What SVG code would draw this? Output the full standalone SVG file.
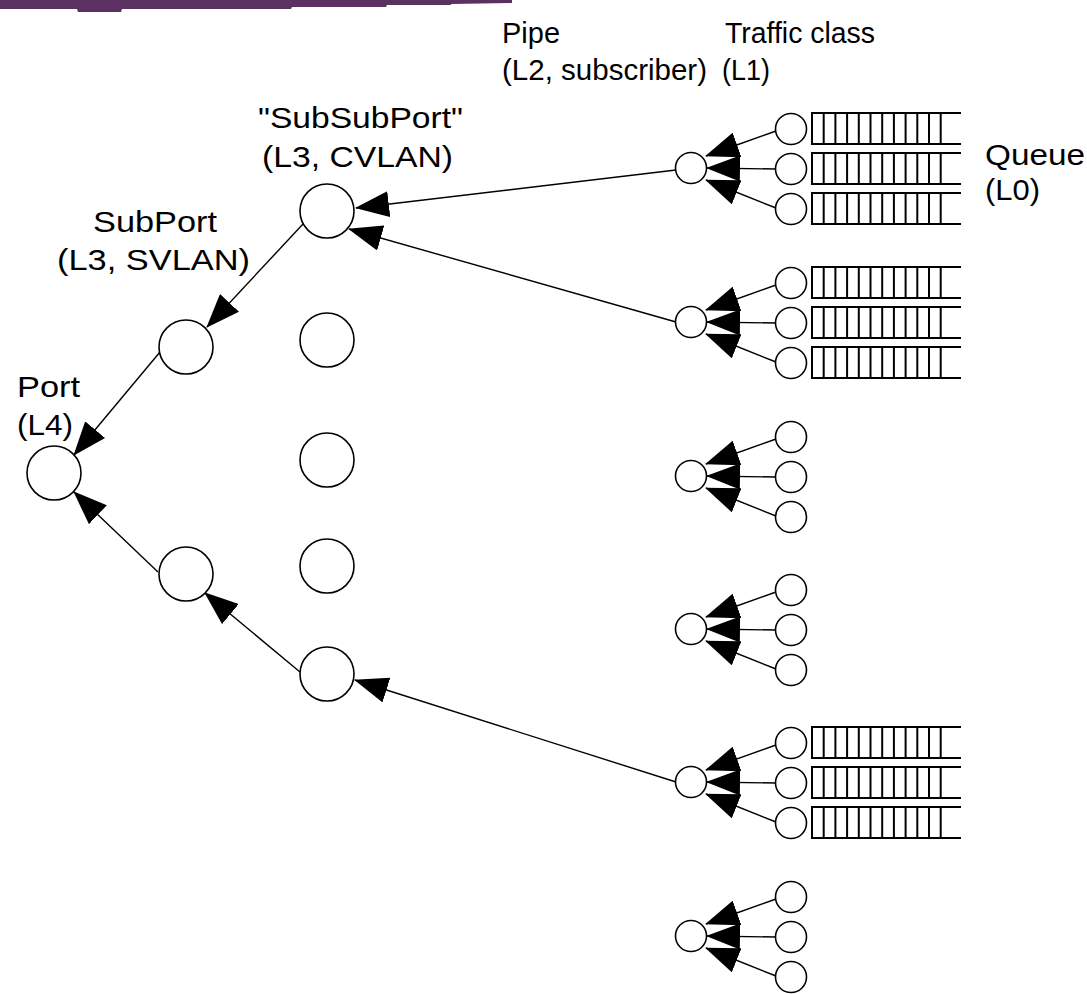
<svg xmlns="http://www.w3.org/2000/svg" xmlns:xlink="http://www.w3.org/1999/xlink" width="1087" height="994" viewBox="0 0 1087 994">
  <style>
    .n { fill: #fff; stroke: #000; stroke-width: 1.6; }
    .e { fill: none; stroke: #000; stroke-width: 1.4; marker-end: url(#ah); }
    .q { fill: none; stroke: #000; stroke-width: 2; }
    .t { font-family: "Liberation Sans", Arial, sans-serif; font-size: 30px; fill: #000; }
  </style>
  <defs>
    <marker id="ah" markerUnits="userSpaceOnUse" markerWidth="34" markerHeight="26" viewBox="0 0 34 26" refX="33" refY="13" orient="auto">
      <path d="M0,0 L34,13 L0,26 Z" fill="#000"/>
    </marker>
    <!-- one queue: open-ended ladder of 12 slots -->
    <g id="queue">
      <path class="q" d="M0,0 H150 M0,31 H150 M1,0 V31 M12.7,0 V31 M24.4,0 V31 M36.1,0 V31 M47.8,0 V31 M59.5,0 V31 M71.2,0 V31 M82.9,0 V31 M94.6,0 V31 M106.3,0 V31 M118,0 V31 M129.7,0 V31"/>
    </g>
    <!-- pipe with its three traffic classes and their arrows -->
    <g id="pipe">
      <path class="e" d="M776,-37 L706,-12"/>
      <path class="e" d="M776,1 L707,0"/>
      <path class="e" d="M776,40 L706,12"/>
      <circle class="n" cx="691" cy="0" r="15.5"/>
      <circle class="n" cx="791" cy="-39" r="15.5"/>
      <circle class="n" cx="791" cy="1" r="15.5"/>
      <circle class="n" cx="791" cy="41" r="15.5"/>
    </g>
    <g id="queues">
      <use xlink:href="#queue" x="811" y="-55"/>
      <use xlink:href="#queue" x="811" y="-15"/>
      <use xlink:href="#queue" x="811" y="25"/>
    </g>
  </defs>

  <!-- header band -->
  <path d="M0,0 H512 V3 L452,4 L450,5 L387,5 L386,7 L292,7 L291,9 L122,9 L121,12 L78,12 L77,9 L0,9 Z" fill="#5b3162"/>

  <!-- connectors -->
  <g id="connectors">
    <path class="e" d="M676,170 L356,208"/>
    <path class="e" d="M676,322 L349,229"/>
    <path class="e" d="M676,782 L355,680"/>
    <path class="e" d="M303,224 L207,327"/>
    <path class="e" d="M300,672 L205,593"/>
    <path class="e" d="M160,352 L74,455"/>
    <path class="e" d="M158,572 L74,492"/>
  </g>

  <!-- port level -->
  <g id="port">
    <circle class="n" cx="54" cy="473" r="27"/>
  </g>

  <!-- subports -->
  <g id="subport-1"><circle class="n" cx="186" cy="347" r="27"/></g>
  <g id="subport-2"><circle class="n" cx="186" cy="574" r="27"/></g>

  <!-- subsubports -->
  <g id="subsubport-1"><circle class="n" cx="327" cy="211" r="27"/></g>
  <g id="subsubport-2"><circle class="n" cx="327" cy="340" r="27"/></g>
  <g id="subsubport-3"><circle class="n" cx="327" cy="460" r="27"/></g>
  <g id="subsubport-4"><circle class="n" cx="327" cy="566" r="27"/></g>
  <g id="subsubport-5"><circle class="n" cx="327" cy="674" r="27"/></g>

  <!-- pipes -->
  <g id="pipe-1" transform="translate(0,168)"><use xlink:href="#pipe"/><use xlink:href="#queues"/></g>
  <g id="pipe-2" transform="translate(0,322)"><use xlink:href="#pipe"/><use xlink:href="#queues"/></g>
  <g id="pipe-3" transform="translate(0,476)"><use xlink:href="#pipe"/></g>
  <g id="pipe-4" transform="translate(0,629)"><use xlink:href="#pipe"/></g>
  <g id="pipe-5" transform="translate(0,782)"><use xlink:href="#pipe"/><use xlink:href="#queues"/></g>
  <g id="pipe-6" transform="translate(0,936)"><use xlink:href="#pipe"/></g>

  <!-- level labels -->
  <g id="labels">
    <text class="t" x="502" y="43" textLength="58" lengthAdjust="spacingAndGlyphs">Pipe</text>
    <text class="t" x="502" y="80" textLength="205" lengthAdjust="spacingAndGlyphs">(L2, subscriber)</text>
    <text class="t" x="725" y="43" textLength="150" lengthAdjust="spacingAndGlyphs">Traffic class</text>
    <text class="t" x="722" y="80" textLength="48" lengthAdjust="spacingAndGlyphs">(L1)</text>
    <text class="t" x="258" y="128" textLength="205" lengthAdjust="spacingAndGlyphs">"SubSubPort"</text>
    <text class="t" x="262" y="167" textLength="191" lengthAdjust="spacingAndGlyphs">(L3, CVLAN)</text>
    <text class="t" x="93" y="232" textLength="124" lengthAdjust="spacingAndGlyphs">SubPort</text>
    <text class="t" x="57" y="270" textLength="193" lengthAdjust="spacingAndGlyphs">(L3, SVLAN)</text>
    <text class="t" x="17" y="397" textLength="63" lengthAdjust="spacingAndGlyphs">Port</text>
    <text class="t" x="17" y="435" textLength="56" lengthAdjust="spacingAndGlyphs">(L4)</text>
    <text class="t" x="985" y="165" textLength="100" lengthAdjust="spacingAndGlyphs">Queue</text>
    <text class="t" x="985" y="200" textLength="55" lengthAdjust="spacingAndGlyphs">(L0)</text>
  </g>
</svg>
